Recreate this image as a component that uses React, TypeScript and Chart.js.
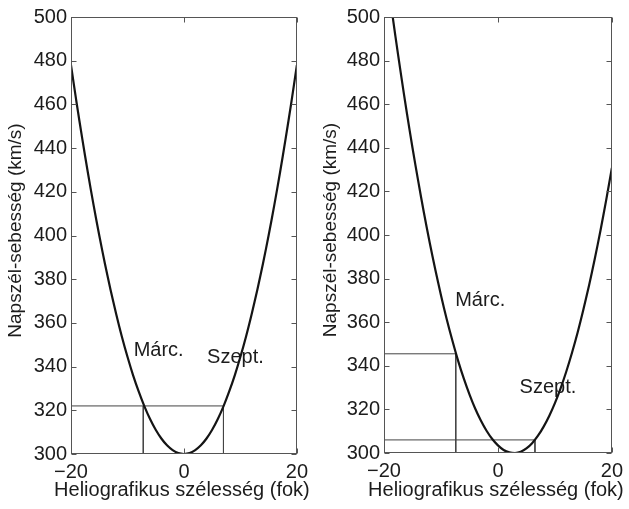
import React, { useEffect, useRef } from 'react';
import { Chart, registerables } from 'chart.js';

Chart.register(...registerables);

// Heliographic latitude (degrees)
const latitudes = [
  -20, -19, -18, -17, -16, -15, -14, -13, -12, -11, -10, -9, -8, -7, -6, -5, -4, -3, -2, -1, 0,
  1, 2, 3, 4, 5, 6, 7, 8, 9, 10, 11, 12, 13, 14, 15, 16, 17, 18, 19, 20,
];

// Left panel: solar wind speed (km/s)
const leftSpeeds = [
  478.0, 460.6, 444.2, 428.6, 413.9, 400.1, 387.2, 375.2, 364.1, 353.8, 344.5, 336.0, 328.5, 321.8,
  316.0, 311.1, 307.1, 304.0, 301.8, 300.4, 300.0,
  300.4, 301.8, 304.0, 307.1, 311.1, 316.0, 321.8, 328.5, 336.0, 344.5, 353.8, 364.1, 375.2, 387.2,
  400.1, 413.9, 428.6, 444.2, 460.6, 478.0,
];

// Right panel: solar wind speed (km/s)
const rightSpeeds = [
  529.8, 510.1, 491.2, 473.3, 456.2, 440.0, 424.8, 410.3, 396.8, 384.2, 372.4, 361.5, 351.6, 342.4,
  334.2, 326.9, 320.4, 314.9, 310.2, 306.4, 303.5,
  301.4, 300.3, 300.0, 300.6, 302.1, 304.5, 307.8, 312.0, 317.0, 322.9, 329.7, 337.4, 346.0, 355.4,
  365.8, 377.0, 389.1, 402.1, 416.0, 430.8,
];

// Reference guide lines (latitude, speed)
const leftGuideAX = [-20, 7, 7];
const leftGuideAY = [322, 322, 300];
const leftGuideBX = [-7.2, -7.2];
const leftGuideBY = [322, 300];

const rightGuideAX = [-20, -7.4, -7.4];
const rightGuideAY = [345.5, 345.5, 300];
const rightGuideBX = [-20, 6.5, 6.5];
const rightGuideBY = [306, 306, 300];

// Text labels in data coordinates
const labelTexts = ['Márc.', 'Szept.'];
const leftLabelX = [-8.9, 4.1];
const leftLabelY = [347.6, 344.4];
const rightLabelX = [-7.5, 3.8];
const rightLabelY = [370, 330];

// Axis ticks / titles
const xTicks = [-20, 0, 20];
const yMin = 300;
const yMax = 500;
const yStep = 20;
const xTitle = 'Heliografikus szélesség (fok)';
const yTitle = 'Napszél-sebesség (km/s)';

const FONT = '"Liberation Sans", Arial, Helvetica, sans-serif';
const TEXT = '#1c1c1c';

const zip = (xs: number[], ys: number[]) => xs.map((x, i) => ({ x, y: ys[i] }));

const framePlugin = {
  id: 'frame',
  beforeDatasetsDraw(chart: any, _args: any, opts: any) {
    const { ctx, scales } = chart;
    const x = scales.x;
    const y = scales.y;
    ctx.save();
    ctx.font = `20px ${FONT}`;
    ctx.fillStyle = TEXT;
    ctx.textBaseline = 'middle';
    ctx.textAlign = 'left';
    (opts.texts || []).forEach((t: string, i: number) => {
      ctx.fillText(t, x.getPixelForValue(opts.xs[i]), y.getPixelForValue(opts.ys[i]));
    });
    ctx.restore();
  },
  afterDatasetsDraw(chart: any, _args: any, opts: any) {
    const { ctx, chartArea: a, scales } = chart;
    const x = scales.x;
    const y = scales.y;
    ctx.save();
    ctx.strokeStyle = '#555';
    ctx.lineWidth = 1;
    const l = Math.round(a.left) + 0.5;
    const r = Math.round(a.right) - 0.5;
    const t = Math.round(a.top) + 0.5;
    const b = Math.round(a.bottom) - 0.5;
    ctx.strokeRect(l, t, r - l, b - t);
    const len = 5;
    ctx.beginPath();
    x.ticks.forEach((tk: any) => {
      const px = Math.round(x.getPixelForValue(tk.value)) + 0.5;
      ctx.moveTo(px, b);
      ctx.lineTo(px, b - len);
      ctx.moveTo(px, t);
      ctx.lineTo(px, t + len);
    });
    y.ticks.forEach((tk: any) => {
      const py = Math.round(y.getPixelForValue(tk.value)) + 0.5;
      ctx.moveTo(l, py);
      ctx.lineTo(l + len, py);
      ctx.moveTo(r, py);
      ctx.lineTo(r - len, py);
    });
    ctx.stroke();
    // x-axis title (drawn unclipped, wider than the plot area)
    ctx.fillStyle = TEXT;
    ctx.textAlign = 'center';
    ctx.textBaseline = 'middle';
    ctx.font = `20px ${FONT}`;
    ctx.fillText(opts.xTitle, (a.left + a.right) / 2 - 2, x.bottom - 19);
    // y-axis title
    ctx.font = `19px ${FONT}`;
    ctx.translate(opts.yTitleX, (a.top + a.bottom) / 2 - 5);
    ctx.rotate(-Math.PI / 2);
    ctx.fillText(opts.yTitle, 0, 0);
    ctx.restore();
  },
};

type PanelProps = {
  width: number;
  speeds: number[];
  guides: { xs: number[]; ys: number[] }[];
  labelXs: number[];
  labelYs: number[];
  yAxisWidth: number;
  yTitleX: number;
  rightPad: number;
  bottomAxisHeight: number;
};

function Panel(props: PanelProps) {
  const ref = useRef<HTMLCanvasElement | null>(null);
  useEffect(() => {
    if (!ref.current) return;
    const datasets: any[] = [
      {
        data: zip(latitudes, props.speeds),
        borderColor: '#141414',
        borderWidth: 2.2,
        pointRadius: 0,
        tension: 0.3,
        fill: false,
      },
      ...props.guides.map((g) => ({
        data: zip(g.xs, g.ys),
        borderColor: '#444',
        borderWidth: 1,
        pointRadius: 0,
        tension: 0,
        fill: false,
      })),
    ];
    const chart = new Chart(ref.current, {
      type: 'line',
      data: { datasets },
      plugins: [framePlugin as any],
      options: {
        animation: false,
        responsive: false,
        devicePixelRatio: 1,
        layout: { padding: { left: 0, right: props.rightPad, top: 17, bottom: 0 } },
        plugins: {
          legend: { display: false },
          tooltip: { enabled: false },
          frame: {
            texts: labelTexts,
            xs: props.labelXs,
            ys: props.labelYs,
            xTitle,
            yTitle,
            yTitleX: props.yTitleX,
          },
        } as any,
        scales: {
          x: {
            type: 'linear',
            min: xTicks[0],
            max: xTicks[xTicks.length - 1],
            afterBuildTicks: (s: any) => {
              s.ticks = xTicks.map((v) => ({ value: v }));
            },
            afterFit: (s: any) => {
              s.height = props.bottomAxisHeight;
            },
            grid: { display: false, drawTicks: false },
            border: { display: false },
            ticks: {
              color: TEXT,
              font: { family: FONT, size: 20 },
              padding: 6,
              maxRotation: 0,
              callback: (v: any) => String(v).replace('-', '\u2212'),
            },
            title: { display: false },
          },
          y: {
            type: 'linear',
            min: yMin,
            max: yMax,
            afterFit: (s: any) => {
              s.width = props.yAxisWidth;
            },
            grid: { display: false, drawTicks: false },
            border: { display: false },
            ticks: {
              stepSize: yStep,
              color: TEXT,
              font: { family: FONT, size: 20 },
              padding: 4,
            },
            title: { display: false },
          },
        },
      },
    });
    return () => chart.destroy();
  }, []);
  return <canvas ref={ref} width={props.width} height={509} style={{ display: 'block' }} />;
}

export default function App() {
  return (
    <div
      style={{
        position: 'fixed',
        left: 0,
        top: 0,
        width: 629,
        height: 509,
        background: '#fff',
        display: 'flex',
      }}
    >
      <Panel
        width={314}
        speeds={leftSpeeds}
        guides={[
          { xs: leftGuideAX, ys: leftGuideAY },
          { xs: leftGuideBX, ys: leftGuideBY },
        ]}
        labelXs={leftLabelX}
        labelYs={leftLabelY}
        yAxisWidth={71}
        yTitleX={16}
        rightPad={8}
        bottomAxisHeight={55}
      />
      <Panel
        width={315}
        speeds={rightSpeeds}
        guides={[
          { xs: rightGuideAX, ys: rightGuideAY },
          { xs: rightGuideBX, ys: rightGuideBY },
        ]}
        labelXs={rightLabelX}
        labelYs={rightLabelY}
        yAxisWidth={70}
        yTitleX={17}
        rightPad={9}
        bottomAxisHeight={56}
      />
    </div>
  );
}
